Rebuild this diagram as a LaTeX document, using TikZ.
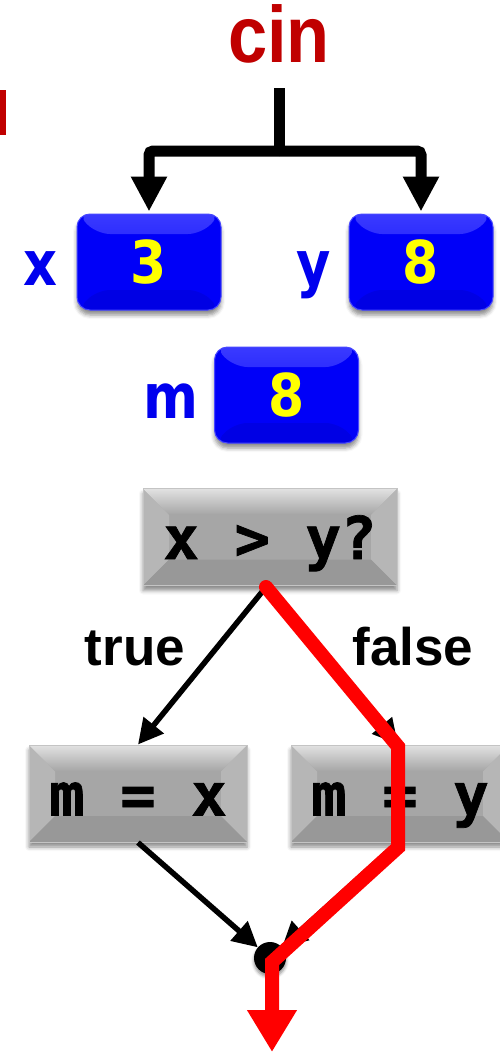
\documentclass[tikz,border=0pt]{standalone}
\usepackage{fontspec}
\setmainfont{Liberation Sans}
\newfontfamily\vf{DejaVu Sans}
\newfontfamily\mf[BoldFeatures={FakeBold=1.2}]{DejaVu Sans Mono}
\usetikzlibrary{shadows.blur,arrows.meta}
\definecolor{cinred}{HTML}{C00000}
\definecolor{boxblue}{HTML}{0000F8}
\definecolor{boxtop}{HTML}{3A3AFF}
\definecolor{boxbot}{HTML}{0000E4}
\definecolor{boxrim}{HTML}{4848FF}
\definecolor{lblblue}{HTML}{0000EE}
\definecolor{gbase}{HTML}{A6A6A6}
\definecolor{gtop}{HTML}{E2E2E2}
\definecolor{gside}{HTML}{B6B6B6}
\definecolor{gbot}{HTML}{989898}
\definecolor{grim}{HTML}{C4C4C4}
\definecolor{yel}{HTML}{FFFF00}
\definecolor{redp}{HTML}{FF0000}
\begin{document}
\begin{tikzpicture}[x=1pt,y=-1pt,
  redlbl/.style={text=cinred, font=\bfseries\fontsize{80}{80}\selectfont, inner sep=0pt, anchor=base},
  varlbl/.style={text=lblblue, font=\vf\bfseries\fontsize{62}{62}\selectfont, inner sep=0pt, anchor=base},
  flowlbl/.style={text=black, font=\bfseries\fontsize{53}{53}\selectfont, inner sep=0pt, anchor=base},
  bluebox/.style={rectangle, rounded corners=13pt, draw=boxrim, line width=1pt, fill=boxblue,
    minimum width=144pt, minimum height=96pt, text height=43pt, text depth=0pt, inner sep=0pt,
    text=yel, font=\vf\bfseries\fontsize{59}{60}\selectfont,
    blur shadow={shadow xshift=0pt, shadow yshift=-5pt, shadow blur radius=4pt, shadow opacity=45},
    path picture={
      \def\bv{20pt}
      \shade[top color=boxtop, bottom color=boxblue] (path picture bounding box.north west) -- (path picture bounding box.north east) -- ([xshift=-\bv,yshift=-\bv]path picture bounding box.north east) -- ([xshift=\bv,yshift=-\bv]path picture bounding box.north west) -- cycle;
      \fill[boxbot] (path picture bounding box.south west) -- (path picture bounding box.south east) -- ([xshift=-\bv,yshift=\bv]path picture bounding box.south east) -- ([xshift=\bv,yshift=\bv]path picture bounding box.south west) -- cycle;
    }},
  gbox/.style={rectangle, draw=grim, line width=1pt, fill=gbase,
    minimum height=97pt, text height=44pt, text depth=0pt, inner sep=0pt,
    text=black, font=\mf\bfseries\fontsize{59}{60}\selectfont,
    blur shadow={shadow xshift=0pt, shadow yshift=-5pt, shadow blur radius=4pt, shadow opacity=45},
    path picture={
      \def\bv{26pt}
      \fill[gside] (path picture bounding box.north west) -- ([xshift=\bv,yshift=-\bv]path picture bounding box.north west) -- ([xshift=\bv,yshift=\bv]path picture bounding box.south west) -- (path picture bounding box.south west) -- cycle;
      \fill[gside] (path picture bounding box.north east) -- ([xshift=-\bv,yshift=-\bv]path picture bounding box.north east) -- ([xshift=-\bv,yshift=\bv]path picture bounding box.south east) -- (path picture bounding box.south east) -- cycle;
      \shade[top color=gtop, bottom color=gbase] (path picture bounding box.north west) -- (path picture bounding box.north east) -- ([xshift=-\bv,yshift=-\bv]path picture bounding box.north east) -- ([xshift=\bv,yshift=-\bv]path picture bounding box.north west) -- cycle;
      \fill[gbot] (path picture bounding box.south west) -- (path picture bounding box.south east) -- ([xshift=-\bv,yshift=\bv]path picture bounding box.south east) -- ([xshift=\bv,yshift=\bv]path picture bounding box.south west) -- cycle;
    }},
  fat/.style={line width=11pt, draw=black, rounded corners=4pt},
  fatarrow/.style={fat, shorten >=2pt, -{Triangle[length=35pt,width=34pt]}},
  thinarrow/.style={line width=5.5pt, draw=black, -{Triangle[length=25pt,width=25pt]}},
  redpath/.style={line width=14pt, draw=redp, line cap=round, -{Triangle[length=42pt,width=47pt]}},
]
\useasboundingbox (0,0) rectangle (500,1052);

% cut-off red fragment at left edge
\fill[cinred] (0,90) rectangle (6,135);

% cin
\node[redlbl] (cin) at (279,62) {\scalebox{0.88}[1]{cin}};

% variable boxes
\node[bluebox] (bx) at (149,262) {\scalebox{0.88}[1]{3}};
\node[bluebox] (by) at (421,262) {\scalebox{0.88}[1]{8}};
\node[bluebox] (bm) at (286.5,395) {\scalebox{0.88}[1]{8}};
\node[varlbl] (lx) at (40,285) {\scalebox{0.85}[1]{x}};
\node[varlbl] (ly) at (314,285) {\scalebox{0.85}[1]{y}};
\node[varlbl] (lm) at (171,418) {\scalebox{0.85}[1]{m}};

% cin arrows
\coordinate (c0) at (279,88);
\coordinate (split) at (279,151);
\draw[fat] (c0) -- (split);
\draw[fatarrow] (split) -| (bx.north);
\draw[fatarrow] (split) -| (by.north);

% flow boxes
\node[gbox, minimum width=254pt] (dec) at (270,537) {x > y?};
\node[gbox, minimum width=218pt] (mx) at (138,793.5) {m = x};
\node[gbox, minimum width=218pt] (my) at (400,793.5) {m = y};

\node[flowlbl] (ltrue) at (135,665) {true};
\node[flowlbl] (lfalse) at (413,665) {false};

% junction
\node[circle, fill=black, minimum size=32pt, inner sep=0pt,
  blur shadow={shadow xshift=0pt, shadow yshift=-3pt, shadow blur radius=3pt, shadow opacity=45}] (J) at (270,958) {};

\coordinate (ds) at (266,587);
\coordinate (endp) at (272,1052);

\draw[thinarrow] (ds) -- (mx.north);
\draw[thinarrow] (ds) -- ([xshift=-2pt]my.north);
\draw[thinarrow] (mx.south) -- (J);
\draw[thinarrow] ([xshift=-2pt]my.south) -- (J);

% taken path
\draw[redpath] (ds) -- ([xshift=-2pt,yshift=-2pt]my.north) -- ([xshift=-2pt,yshift=-5pt]my.south) -- ([xshift=2pt,yshift=-4pt]J.center) -- (endp);
\end{tikzpicture}
\end{document}
